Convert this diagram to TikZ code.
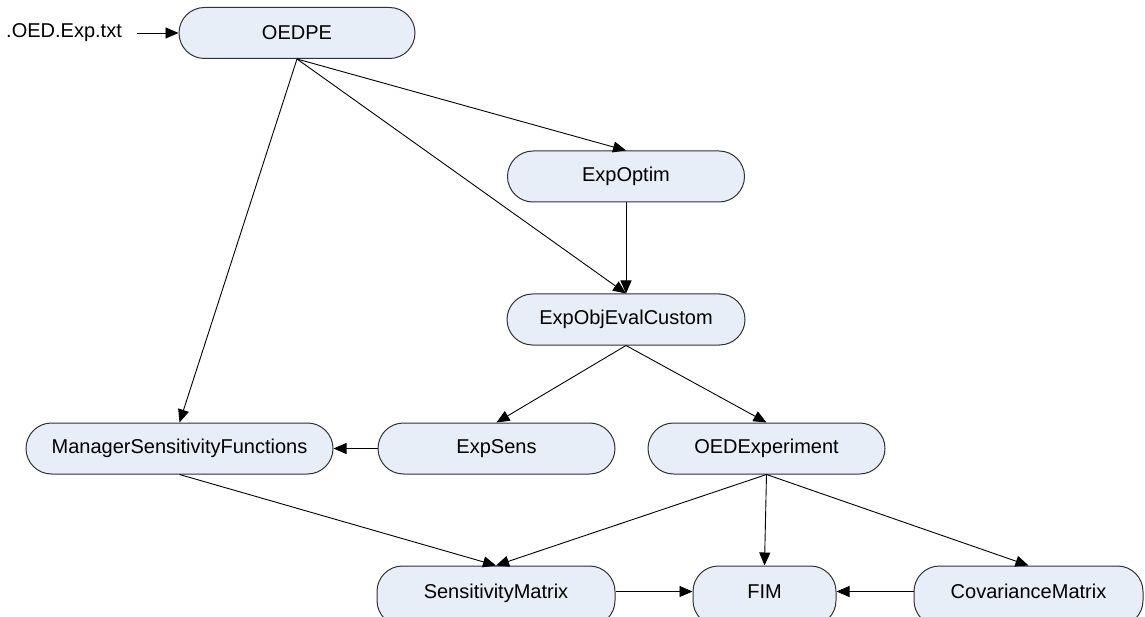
\documentclass[tikz,border=0pt]{standalone}
\usepackage{fontspec}
\setmainfont{Liberation Sans}
\usetikzlibrary{arrows.meta}
\definecolor{boxfill}{HTML}{E8EEF8}
\definecolor{boxline}{HTML}{303030}
\tikzset{
  stadium/.style={draw=boxline, line width=1pt, fill=boxfill, rounded corners=25.5pt,
    minimum height=51pt, inner sep=0pt, font=\fontsize{20}{24}\selectfont},
  lowbox/.style={stadium, minimum height=60pt, text depth=9pt},
  conn/.style={draw=black, line width=0.9pt, -{Triangle[length=13pt,width=11pt]}}
}
\begin{document}
\begin{tikzpicture}[x=1pt,y=-1pt]
\useasboundingbox (0,0) rectangle (1145,617);
\node[stadium, minimum width=236pt] (oedpe) at (297,33) {OEDPE};
\node[stadium, minimum width=237pt] (expoptim) at (626,176.5) {ExpOptim};
\node[stadium, minimum width=238pt] (expobj) at (626,319.5) {ExpObjEvalCustom};
\node[stadium, minimum width=307pt] (manager) at (179.5,448.5) {ManagerSensitivityFunctions};
\node[stadium, minimum width=237pt] (expsens) at (496.5,448.5) {ExpSens};
\node[stadium, minimum width=237pt] (oedexp) at (766.5,448.5) {OEDExperiment};
\node[lowbox, minimum width=238pt] (sensmat) at (496,596) {SensitivityMatrix};
\node[lowbox, minimum width=143pt] (fim) at (764.5,596) {FIM};
\node[lowbox, minimum width=229pt] (cov) at (1028.5,596) {CovarianceMatrix};
\node[anchor=east, inner sep=0pt, font=\fontsize{20}{24}\selectfont] (infile) at (122,33) {.OED.Exp.txt};
\coordinate (sensR) at ([yshift=4.5pt]sensmat.east);
\coordinate (fimL) at ([yshift=4.5pt]fim.west);
\coordinate (fimR) at ([yshift=4.5pt]fim.east);
\coordinate (covL) at ([yshift=4.5pt]cov.west);
\draw[conn] ([xshift=15pt]infile.east) -- (oedpe.west);
\draw[conn] (oedpe.south) -- (expoptim.north);
\draw[conn] (oedpe.south) -- (expobj.north);
\draw[conn] (oedpe.south) -- (manager.north);
\draw[conn] (expoptim.south) -- (expobj.north);
\draw[conn] (expobj.south) -- (expsens.north);
\draw[conn] (expobj.south) -- (oedexp.north);
\draw[conn] (expsens.west) -- (manager.east);
\draw[conn] (manager.south) -- (sensmat.north);
\draw[conn] (oedexp.south) -- (sensmat.north);
\draw[conn] (oedexp.south) -- (fim.north);
\draw[conn] (oedexp.south) -- (cov.north);
\draw[conn] (sensR) -- (fimL);
\draw[conn] (covL) -- (fimR);
\end{tikzpicture}
\end{document}
